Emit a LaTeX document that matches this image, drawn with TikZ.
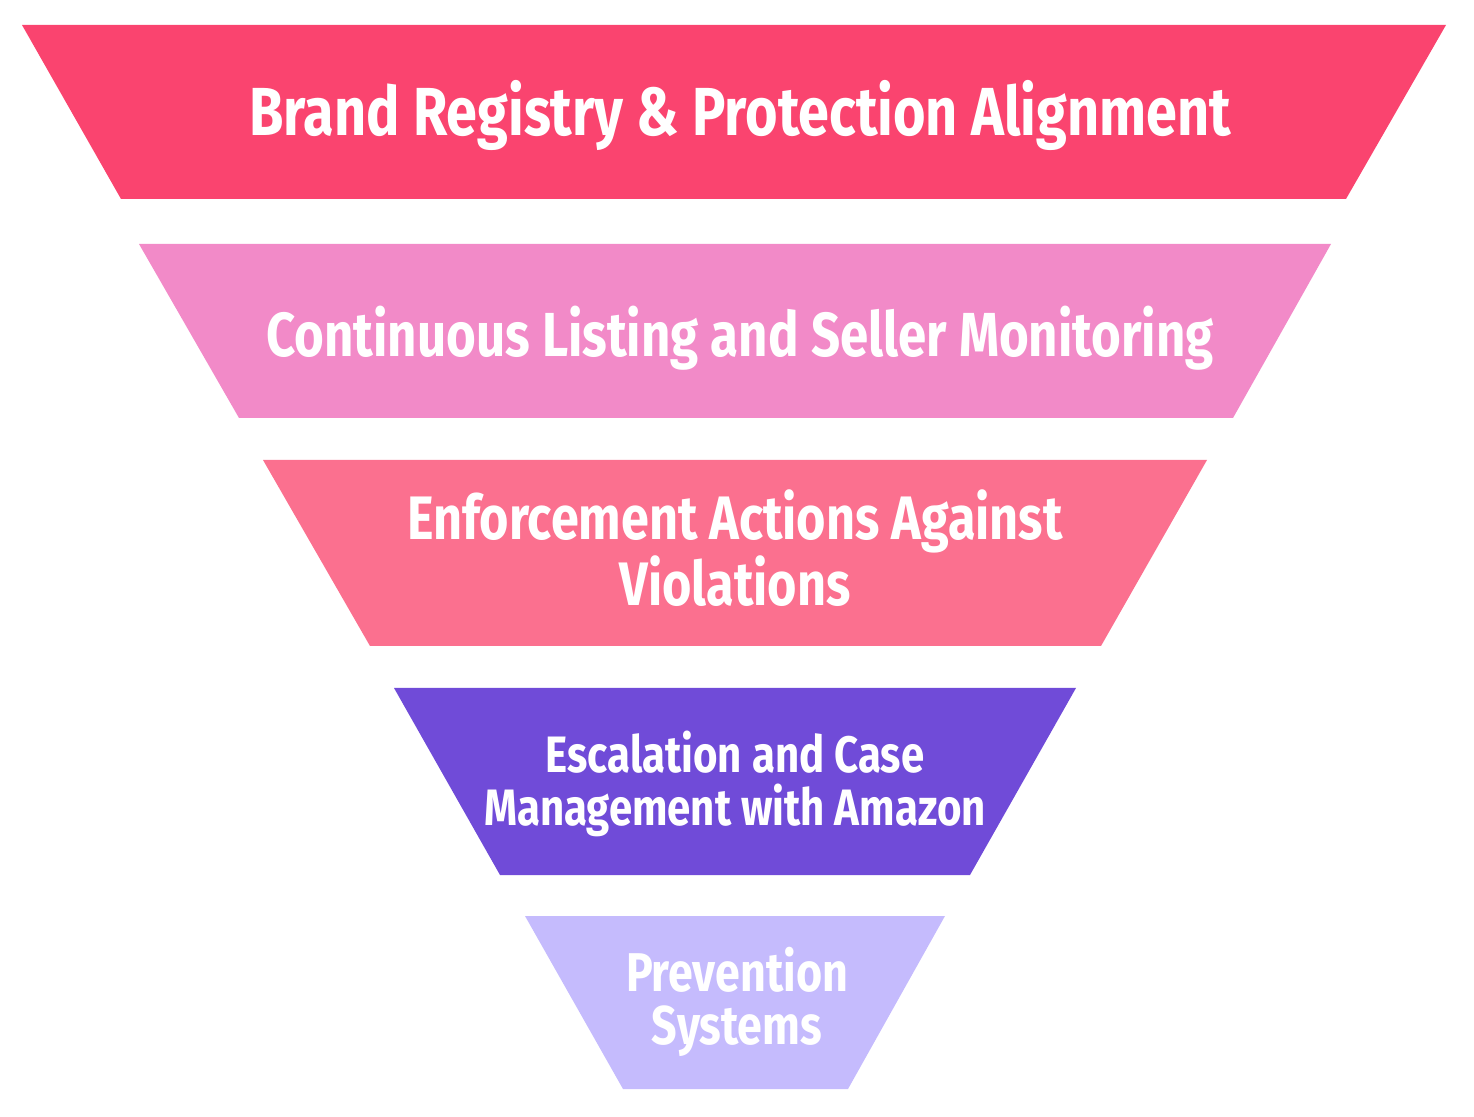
\documentclass[tikz,border=0pt]{standalone}
\usepackage{fontspec}
\setmainfont{Fira Sans}[FakeStretch=0.82]
\usetikzlibrary{positioning}
\definecolor{layerA}{HTML}{FA446F}
\definecolor{layerB}{HTML}{F28AC8}
\definecolor{layerC}{HTML}{FB708F}
\definecolor{layerD}{HTML}{704BD8}
\definecolor{layerE}{HTML}{C5BBFD}

\begin{document}
\begin{tikzpicture}[x=.5pt,y=-.5pt,
  layer/.style={fill=#1,draw=none},
  lbl/.style={align=center,text=white,inner sep=0pt}]
\useasboundingbox (0,0) rectangle (1474,1117);
% funnel layers, top to bottom
\path[layer=layerA] (22,25) -- (1446,25) -- (1346,199) -- (121,199) -- cycle;
\node[lbl,font=\bfseries\fontsize{34}{34}\selectfont] (brand) at (740,115) {Brand Registry \& Protection Alignment};
\path[layer=layerB] (139,244) -- (1331,244) -- (1233,418) -- (239,418) -- cycle;
\node[lbl,font=\bfseries\fontsize{31.1}{31.1}\selectfont] (monitor) at (740,338) {Continuous Listing and Seller Monitoring};
\path[layer=layerC] (263,460) -- (1207,460) -- (1101,646) -- (370,646) -- cycle;
\node[lbl,font=\bfseries\fontsize{30.7}{31.5}\selectfont] (enforce) at (735,548) {Enforcement Actions Against\\Violations};
\path[layer=layerD] (394,688) -- (1076,688) -- (970,875) -- (500,875) -- cycle;
\node[lbl,font=\bfseries\fontsize{25.6}{26.5}\selectfont] (escal) at (735,784) {Escalation and Case\\Management with Amazon};
\path[layer=layerE] (525,916) -- (945,916) -- (848,1089) -- (623,1089) -- cycle;
\node[lbl,font=\bfseries\fontsize{27.3}{26.5}\selectfont] (prevent) at (737,1002) {Prevention\\Systems};
\end{tikzpicture}
\end{document}
